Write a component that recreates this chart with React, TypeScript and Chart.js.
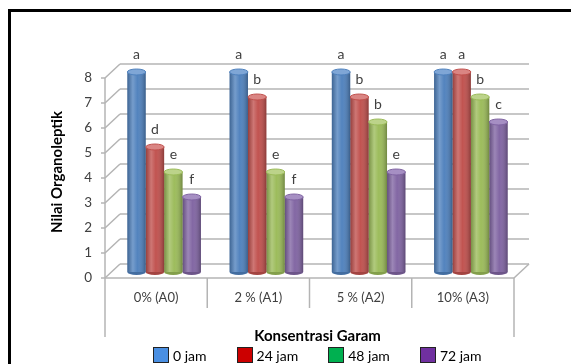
import React, { useEffect, useRef } from "react";
import { Chart, registerables } from "chart.js";

Chart.register(...registerables);

const categories = ["0% (A0)", "2 % (A1)", "5 % (A2)", "10% (A3)"];
const seriesNames = ["0 jam", "24 jam", "48 jam", "72 jam"];
const jam0 = [8, 8, 8, 8];
const jam24 = [5, 7, 7, 8];
const jam48 = [4, 4, 6, 7];
const jam72 = [3, 3, 4, 6];
const letters0 = ["a", "a", "a", "a"];
const letters24 = ["d", "b", "b", "a"];
const letters48 = ["e", "e", "b", "b"];
const letters72 = ["f", "f", "e", "c"];
const yMin = 0;
const yMax = 8;
const yStep = 1;
const barColors = ["#4F81BD", "#C0504D", "#9BBB59", "#8064A2"];
const capColors = ["#7FA6D6", "#DA8583", "#BCD38A", "#A68FC3"];
const legendColors = ["#4A8FE2", "#CC0000", "#00B050", "#7030A0"];
const xTitle = "Konsentrasi Garam";
const yTitle = "Nilai Organoleptik";

const seriesValues = [jam0, jam24, jam48, jam72];
const seriesLetters = [letters0, letters24, letters48, letters72];

const FONT = "Lato, 'Open Sans', sans-serif";
// pseudo-3D depth offsets (front and back planes relative to bar plane)
const FX = -8, FY = 6, BX = 7, BY = -8;
const GRID = "#B4B4B4";

const wallPlugin = {
  id: "wall3d",
  beforeDatasetsDraw(chart: any) {
    const { ctx, chartArea, scales } = chart;
    const x = scales.x, y = scales.y;
    const left = chartArea.left, right = chartArea.right;
    ctx.save();
    ctx.strokeStyle = GRID;
    ctx.lineWidth = 1.5;
    const line = (x1: number, y1: number, x2: number, y2: number) => {
      ctx.beginPath();
      ctx.moveTo(x1, y1);
      ctx.lineTo(x2, y2);
      ctx.stroke();
    };
    for (let v = yMin; v <= yMax; v += yStep) {
      const py = y.getPixelForValue(v);
      line(left + BX, py + BY, right + BX, py + BY);
      line(left + FX, py + FY, left + BX, py + BY);
      line(left + FX - 4, py + FY, left + FX, py + FY);
    }
    const y0 = y.getPixelForValue(yMin);
    const yT = y.getPixelForValue(yMax);
    line(left + FX, y0 + FY, left + FX, yT + FY);
    line(left + FX, y0 + FY, right + FX, y0 + FY);
    line(right + FX, y0 + FY, right + BX, y0 + BY);
    const n = categories.length;
    for (let i = 0; i <= n; i++) {
      let bx: number;
      if (i === 0) bx = left;
      else if (i === n) bx = right;
      else bx = (x.getPixelForValue(i - 1) + x.getPixelForValue(i)) / 2;
      const len = i === 0 || i === n ? 59 : 30;
      line(bx + FX, y0 + FY, bx + FX, y0 + FY + len);
    }
    ctx.restore();
  },
  afterDatasetsDraw(chart: any) {
    const { ctx } = chart;
    ctx.save();
    chart.data.datasets.forEach((ds: any, di: number) => {
      const meta = chart.getDatasetMeta(di);
      meta.data.forEach((bar: any, i: number) => {
        const { x: bx, y: by, base, width } = bar.getProps(["x", "y", "base", "width"], true);
        const l = bx - width / 2;
        const g = ctx.createLinearGradient(l, 0, l + width, 0);
        g.addColorStop(0, "rgba(0,0,0,0.22)");
        g.addColorStop(0.3, "rgba(255,255,255,0.22)");
        g.addColorStop(0.55, "rgba(255,255,255,0.02)");
        g.addColorStop(1, "rgba(0,0,0,0.28)");
        ctx.fillStyle = g;
        ctx.fillRect(l, by, width, base - by);
        ctx.beginPath();
        ctx.ellipse(bx, base, width / 2, 3, 0, 0, Math.PI);
        ctx.fillStyle = barColors[di];
        ctx.fill();
        ctx.fillStyle = "rgba(0,0,0,0.15)";
        ctx.fill();
        ctx.beginPath();
        ctx.ellipse(bx, by, width / 2, 3, 0, 0, Math.PI * 2);
        ctx.fillStyle = capColors[di];
        ctx.fill();
        ctx.strokeStyle = barColors[di];
        ctx.lineWidth = 1;
        ctx.stroke();
        ctx.fillStyle = "#404040";
        ctx.font = `14px ${FONT}`;
        ctx.textAlign = "center";
        ctx.textBaseline = "middle";
        ctx.fillText(seriesLetters[di][i], bx, by - 18);
      });
    });
    ctx.restore();
  },
};

export default function App() {
  const ref = useRef<HTMLCanvasElement | null>(null);
  useEffect(() => {
    if (!ref.current) return;
    const chart = new Chart(ref.current, {
      type: "bar",
      data: {
        labels: categories,
        datasets: seriesNames.map((name, i) => ({
          label: name,
          data: seriesValues[i],
          backgroundColor: barColors[i],
          borderWidth: 0,
          barPercentage: 1,
          categoryPercentage: 0.72,
        })),
      },
      options: {
        responsive: false,
        animation: false,
        devicePixelRatio: 1,
        layout: { padding: { left: 0, right: 57, top: 64, bottom: 0 } },
        plugins: {
          legend: { display: false },
          tooltip: { enabled: false },
        },
        scales: {
          x: {
            grid: { display: false, drawTicks: false },
            border: { display: false },
            afterFit: (s: any) => {
              s.height = 92;
            },
            ticks: {
              color: "#404040",
              font: { family: FONT, size: 13 },
              padding: 18,
              labelOffset: -8,
              maxRotation: 0,
            },
            title: {
              display: true,
              text: xTitle,
              color: "#000",
              font: { family: FONT, size: 15, weight: "bold" },
              padding: { top: 0, bottom: 19 },
            },
          },
          y: {
            min: yMin,
            max: yMax,
            grid: { display: false, drawTicks: false },
            border: { display: false },
            afterFit: (s: any) => {
              s.width = 105;
            },
            ticks: {
              stepSize: yStep,
              color: "#404040",
              font: { family: FONT, size: 13.5 },
              padding: 21,
              labelOffset: 6,
            },
            title: {
              display: true,
              text: yTitle,
              color: "#000",
              font: { family: FONT, size: 15, weight: "bold" },
              padding: { top: 40, bottom: 0 },
            },
          },
        },
      },
      plugins: [wallPlugin],
    });
    return () => chart.destroy();
  }, []);

  return (
    <div style={{ position: "relative", width: 571, height: 356, overflow: "hidden", background: "#fff" }}>
      <div
        style={{
          position: "absolute",
          left: 0,
          top: 1,
          width: 640,
          height: 420,
          border: "3px solid #000",
          boxSizing: "border-box",
          pointerEvents: "none",
        }}
      />
      <canvas ref={ref} width={571} height={356} style={{ position: "absolute", left: 0, top: 0 }} />
      <div
        style={{
          position: "absolute",
          left: 145,
          top: 339,
          display: "flex",
          alignItems: "center",
          gap: 30,
          fontFamily: FONT,
          fontSize: 14,
          color: "#000",
          lineHeight: "15px",
        }}
      >
        {seriesNames.map((name, i) => (
          <div key={name} style={{ display: "flex", alignItems: "center" }}>
            <span
              style={{
                display: "inline-block",
                width: 16,
                height: 16,
                background: legendColors[i],
                border: "1px solid #222",
                boxSizing: "border-box",
                marginRight: 4,
              }}
            />
            <span>{name}</span>
          </div>
        ))}
      </div>
    </div>
  );
}
